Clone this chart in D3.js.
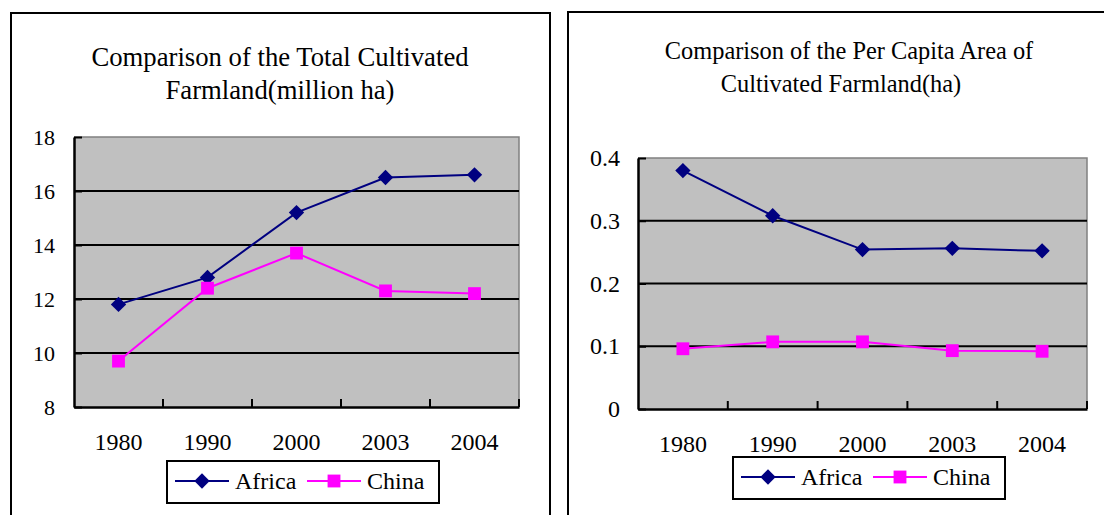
<!DOCTYPE html>
<html lang="en">
<head>
<meta charset="UTF-8">
<title>Farmland comparison</title>
<script src="https://d3js.org/d3.v7.min.js"></script>
<style>
    body { margin: 0; background: #fff; overflow: hidden; }
    svg { display: block; }
</style>
</head>
<body>
<svg id="chart" width="1104" height="515"></svg>
<script>
// data
const years = ["1980", "1990", "2000", "2003", "2004"];
const seriesNames = ["Africa", "China"];
const africaTotal = [11.8, 12.8, 15.2, 16.5, 16.6];
const chinaTotal = [9.7, 12.4, 13.7, 12.3, 12.2];
const africaPerCapita = [0.38, 0.308, 0.254, 0.256, 0.252];
const chinaPerCapita = [0.096, 0.107, 0.107, 0.093, 0.092];
const totalTicks = [8, 10, 12, 14, 16, 18];
const perCapitaTicks = [0, 0.1, 0.2, 0.3, 0.4];
const totalTitle = ["Comparison of the Total Cultivated", "Farmland(million ha)"];
const perCapitaTitle = ["Comparison of the Per Capita Area of", "Cultivated Farmland(ha)"];

const colors = { Africa: "#000080", China: "#ff00ff" };
const FONT = "Liberation Serif, Times New Roman, serif";

const svg = d3.select("#chart");

function drawChart(cfg) {
    const g = svg.append("g");

    // outer panel frame (runs off the bottom / right of the picture)
    g.append("path")
        .attr("d", `M${cfg.frame.x},${cfg.frame.bottom}V${cfg.frame.y}H${cfg.frame.right}` +
            (cfg.frame.closeRight ? `V${cfg.frame.bottom}` : ""))
        .attr("fill", "none")
        .attr("stroke", "#000")
        .attr("stroke-width", 2);

    // title
    cfg.title.forEach((line, i) => {
        g.append("text")
            .attr("x", cfg.titleX[i])
            .attr("y", cfg.titleY[i])
            .attr("text-anchor", "middle")
            .style("font-family", FONT)
            .style("font-size", cfg.titleSize + "px")
            .text(line);
    });

    const p = cfg.plot;
    const x = d3.scaleBand().domain(years).range([p.left, p.right]).padding(0);
    const y = d3.scaleLinear().domain(cfg.domain).range([p.bottom, p.top]);
    const cx = d => x(d) + x.bandwidth() / 2;

    // plot area
    g.append("rect")
        .attr("x", p.left).attr("y", p.top)
        .attr("width", p.right - p.left).attr("height", p.bottom - p.top)
        .attr("fill", "#c0c0c0");
    g.append("path")
        .attr("d", `M${p.left},${p.top}H${p.right}V${p.bottom}`)
        .attr("fill", "none")
        .attr("stroke", "#808080")
        .attr("stroke-width", 1.5);

    // gridlines
    g.append("g")
        .selectAll("line")
        .data(cfg.ticks.filter(t => t !== cfg.domain[0] && t !== cfg.domain[1]))
        .join("line")
        .attr("x1", p.left).attr("x2", p.right)
        .attr("y1", d => y(d)).attr("y2", d => y(d))
        .attr("stroke", "#000")
        .attr("stroke-width", 2);

    // y axis
    const yAxis = g.append("g")
        .attr("transform", `translate(${p.left},0)`)
        .call(d3.axisLeft(y).tickValues(cfg.ticks).tickSize(-8).tickSizeOuter(0).tickPadding(cfg.yPad)
            .tickFormat(d3.format("")));
    yAxis.attr("font-family", null).attr("font-size", null);
    yAxis.selectAll("text").attr("fill", "#000")
        .style("font-family", FONT).style("font-size", cfg.yTickSize + "px");
    yAxis.selectAll("line").attr("stroke", "#000").attr("stroke-width", 2);
    yAxis.select(".domain").attr("stroke", "#000").attr("stroke-width", 2.5);

    // x axis: labels in band centres, tick marks on band edges
    const xAxis = g.append("g")
        .attr("transform", `translate(0,${p.bottom})`)
        .call(d3.axisBottom(x).tickSize(0).tickPadding(cfg.xPad));
    xAxis.attr("font-family", null).attr("font-size", null);
    xAxis.selectAll("text").attr("fill", "#000")
        .style("font-family", FONT).style("font-size", cfg.xTickSize + "px");
    xAxis.select(".domain").attr("stroke", "#000").attr("stroke-width", 2.5);
    g.append("g")
        .selectAll("line")
        .data(years)
        .join("line")
        .attr("x1", d => x(d) + x.bandwidth()).attr("x2", d => x(d) + x.bandwidth())
        .attr("y1", p.bottom).attr("y2", p.bottom - 8)
        .attr("stroke", "#000")
        .attr("stroke-width", 2);

    // series
    const line = d3.line().x((d, i) => cx(years[i])).y(d => y(d));
    const series = [
        { name: "Africa", values: cfg.africa, symbol: d3.symbolDiamond2, size: 150 },
        { name: "China", values: cfg.china, symbol: d3.symbolSquare2, size: 210 }
    ];
    series.forEach(s => {
        g.append("path")
            .datum(s.values)
            .attr("d", line)
            .attr("fill", "none")
            .attr("stroke", colors[s.name])
            .attr("stroke-width", 2);
        g.append("g")
            .selectAll("path")
            .data(s.values)
            .join("path")
            .attr("transform", (d, i) => `translate(${cx(years[i])},${y(d)})`)
            .attr("d", d3.symbol().type(s.symbol).size(s.size))
            .attr("fill", colors[s.name]);
    });

    // legend
    const L = cfg.legend;
    const lg = g.append("g").attr("transform", `translate(${L.x},${L.y})`);
    lg.append("rect")
        .attr("width", 272).attr("height", 42)
        .attr("fill", "#fff")
        .attr("stroke", "#000")
        .attr("stroke-width", 2);
    series.forEach((s, i) => {
        const ox = i * 132;
        lg.append("line")
            .attr("x1", ox + 8).attr("x2", ox + 62)
            .attr("y1", 20).attr("y2", 20)
            .attr("stroke", colors[s.name])
            .attr("stroke-width", 2);
        lg.append("path")
            .attr("transform", `translate(${ox + 35},20)`)
            .attr("d", d3.symbol().type(s.symbol).size(s.size))
            .attr("fill", colors[s.name]);
        lg.append("text")
            .attr("x", ox + 68)
            .attr("y", 28)
            .style("font-family", FONT)
            .style("font-size", "24px")
            .text(seriesNames[i]);
    });
}

drawChart({
    frame: { x: 11, y: 13, right: 550, bottom: 530, closeRight: true },
    title: totalTitle,
    titleX: [280, 280],
    titleY: [66, 99],
    titleSize: 26.7,
    plot: { left: 74, right: 519, top: 137, bottom: 407 },
    domain: [8, 18],
    ticks: totalTicks,
    africa: africaTotal,
    china: chinaTotal,
    yTickSize: 22,
    xTickSize: 24,
    yPad: 19,
    xPad: 26,
    legend: { x: 167, y: 461 }
});

drawChart({
    frame: { x: 568, y: 12, right: 1110, bottom: 530, closeRight: false },
    title: perCapitaTitle,
    titleX: [849, 841],
    titleY: [59, 92],
    titleSize: 24.4,
    plot: { left: 638, right: 1087, top: 158, bottom: 409 },
    domain: [0, 0.4],
    ticks: perCapitaTicks,
    africa: africaPerCapita,
    china: chinaPerCapita,
    yTickSize: 24,
    xTickSize: 24,
    yPad: 18,
    xPad: 26,
    legend: { x: 733, y: 457 }
});
</script>
</body>
</html>
